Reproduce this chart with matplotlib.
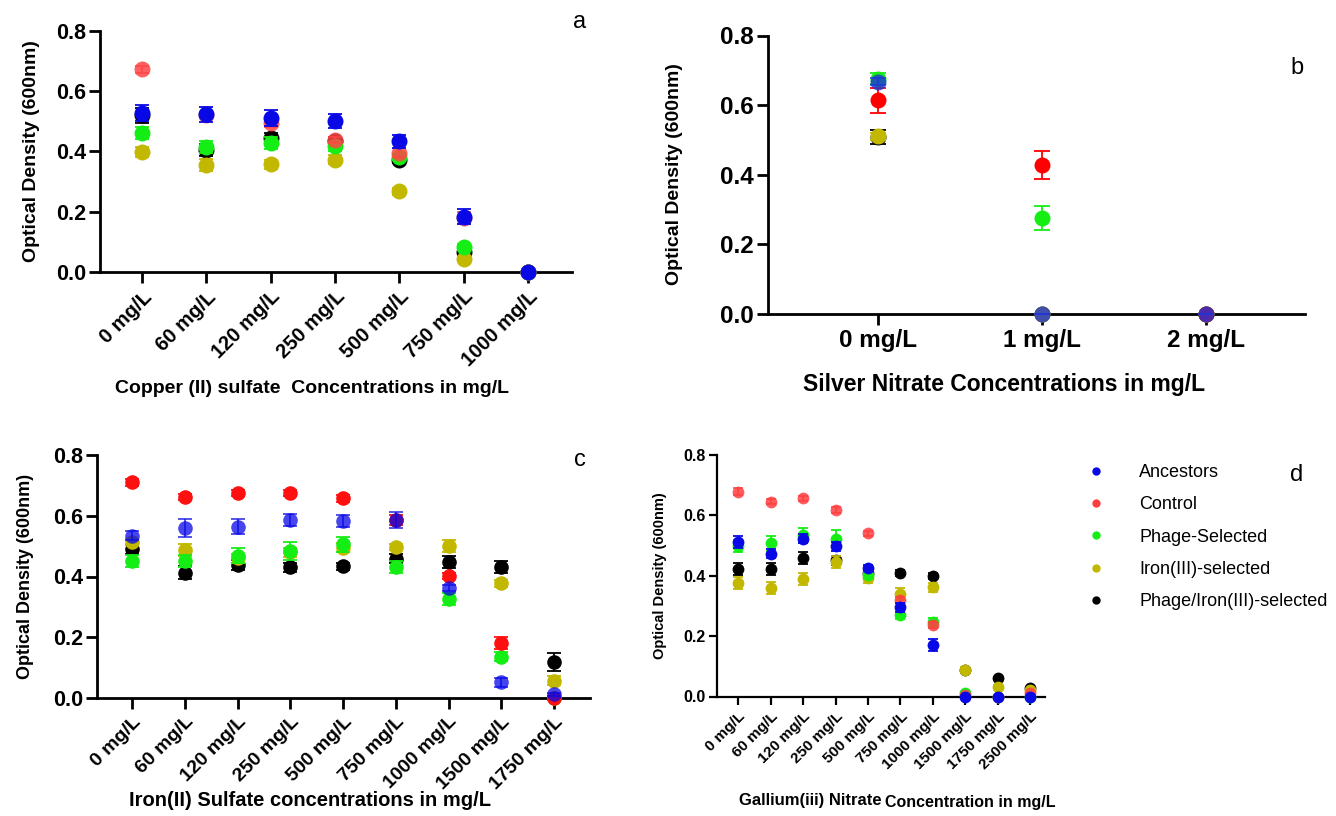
import matplotlib
matplotlib.use('Agg')
import matplotlib.pyplot as plt
from matplotlib.lines import Line2D

plt.rcParams['font.family'] = ['Liberation Sans', 'DejaVu Sans']

W, H = 1336, 816

series_names = ['Ancestors', 'Control', 'Phage-Selected', 'Iron(III)-selected',
                'Phage/Iron(III)-selected']

# ---------------- Panel a: Copper (II) sulfate ----------------
cu_labels = ['0 mg/L', '60 mg/L', '120 mg/L', '250 mg/L', '500 mg/L', '750 mg/L', '1000 mg/L']
cu_ancestors = [0.529, 0.523, 0.510, 0.501, 0.434, 0.184, 0.0]
cu_control = [0.673, 0.520, 0.495, 0.438, 0.396, 0.180, 0.0]
cu_phage = [0.462, 0.414, 0.429, 0.418, 0.382, 0.084, 0.0]
cu_iron = [0.399, 0.354, 0.357, 0.373, 0.268, 0.043, 0.0]
cu_phage_iron = [0.520, 0.405, 0.445, 0.435, 0.373, 0.068, 0.0]
cu_ancestors_err = [0.027, 0.025, 0.027, 0.023, 0.022, 0.025, 0.0]
cu_control_err = [0.012, 0.010, 0.015, 0.010, 0.015, 0.020, 0.0]
cu_phage_err = [0.020, 0.020, 0.020, 0.015, 0.010, 0.010, 0.0]
cu_iron_err = [0.017, 0.020, 0.015, 0.015, 0.012, 0.008, 0.0]
cu_phage_iron_err = [0.025, 0.020, 0.015, 0.012, 0.012, 0.008, 0.0]

# ---------------- Panel b: Silver nitrate ----------------
ag_labels = ['0 mg/L', '1 mg/L', '2 mg/L']
ag_ancestors = [0.667, 0.0, 0.0]
ag_control = [0.613, 0.428, 0.0]
ag_phage = [0.676, 0.275, 0.0]
ag_iron = [0.510, 0.0, 0.0]
ag_phage_iron = [0.508, 0.0, 0.0]
ag_ancestors_err = [0.010, 0.0, 0.0]
ag_control_err = [0.035, 0.040, 0.0]
ag_phage_err = [0.015, 0.035, 0.0]
ag_iron_err = [0.010, 0.0, 0.0]
ag_phage_iron_err = [0.020, 0.0, 0.0]

# ---------------- Panel c: Iron(II) sulfate ----------------
fe_labels = ['0 mg/L', '60 mg/L', '120 mg/L', '250 mg/L', '500 mg/L', '750 mg/L',
             '1000 mg/L', '1500 mg/L', '1750 mg/L']
fe_ancestors = [0.534, 0.559, 0.564, 0.586, 0.583, 0.586, 0.361, 0.052, 0.013]
fe_control = [0.710, 0.663, 0.674, 0.676, 0.657, 0.586, 0.403, 0.180, 0.0]
fe_phage = [0.451, 0.452, 0.469, 0.485, 0.506, 0.432, 0.325, 0.136, 0.0]
fe_iron = [0.515, 0.487, 0.460, 0.480, 0.495, 0.496, 0.500, 0.377, 0.057]
fe_phage_iron = [0.489, 0.413, 0.438, 0.430, 0.434, 0.458, 0.449, 0.430, 0.118]
fe_ancestors_err = [0.015, 0.030, 0.025, 0.020, 0.020, 0.025, 0.010, 0.015, 0.005]
fe_control_err = [0.012, 0.010, 0.010, 0.010, 0.012, 0.015, 0.010, 0.020, 0.005]
fe_phage_err = [0.020, 0.020, 0.025, 0.030, 0.025, 0.020, 0.020, 0.015, 0.0]
fe_iron_err = [0.010, 0.020, 0.015, 0.015, 0.015, 0.010, 0.020, 0.010, 0.015]
fe_phage_iron_err = [0.015, 0.020, 0.015, 0.015, 0.012, 0.015, 0.020, 0.020, 0.030]

# ---------------- Panel d: Gallium(iii) nitrate ----------------
ga_labels = ['0 mg/L', '60 mg/L', '120 mg/L', '250 mg/L', '500 mg/L', '750 mg/L',
             '1000 mg/L', '1500 mg/L', '1750 mg/L', '2500 mg/L']
ga_ancestors = [0.512, 0.473, 0.523, 0.498, 0.425, 0.296, 0.171, 0.0, 0.0, 0.0]
ga_control = [0.678, 0.645, 0.656, 0.617, 0.541, 0.320, 0.237, 0.005, 0.0, 0.010]
ga_phage = [0.500, 0.508, 0.534, 0.523, 0.404, 0.271, 0.246, 0.010, 0.0, 0.0]
ga_iron = [0.376, 0.359, 0.388, 0.445, 0.392, 0.340, 0.362, 0.089, 0.033, 0.020]
ga_phage_iron = [0.421, 0.423, 0.460, 0.451, 0.410, 0.410, 0.398, 0.087, 0.061, 0.027]
ga_ancestors_err = [0.020, 0.015, 0.015, 0.015, 0.010, 0.015, 0.020, 0.0, 0.0, 0.0]
ga_control_err = [0.012, 0.008, 0.008, 0.010, 0.008, 0.010, 0.010, 0.0, 0.0, 0.0]
ga_phage_err = [0.020, 0.025, 0.025, 0.030, 0.010, 0.015, 0.015, 0.0, 0.0, 0.0]
ga_iron_err = [0.020, 0.020, 0.020, 0.020, 0.015, 0.020, 0.015, 0.008, 0.005, 0.0]
ga_phage_iron_err = [0.020, 0.020, 0.020, 0.015, 0.010, 0.010, 0.010, 0.005, 0.005, 0.005]

BLUE, RED, GREEN, OLIVE, BLACK = '#0808e6', '#ff2020', '#14ee14', '#c2b800', '#000000'
series_colors = [BLUE, RED, GREEN, OLIVE, BLACK]
series_z = [7, 6, 5, 4, 3]

fig = plt.figure(figsize=(W / 100, H / 100), dpi=100)


def make_axes(left, right, y0, y8):
    return fig.add_axes([left / W, 1 - y0 / H, (right - left) / W, (y0 - y8) / H])


def style(ax, labels, t0, step, left, right, tick_fs, tlen, lw, xrot, xfs=None):
    n = len(labels)
    ax.set_xlim((left - t0) / step, (right - t0) / step)
    ax.set_ylim(0, 0.8)
    ax.set_yticks([0.0, 0.2, 0.4, 0.6, 0.8])
    ax.set_yticklabels(['0.0', '0.2', '0.4', '0.6', '0.8'], fontsize=tick_fs, fontweight='bold')
    ax.set_xticks(range(n))
    if xrot:
        ax.set_xticklabels(labels, rotation=45, ha='right', va='top', rotation_mode='anchor',
                           fontsize=xrot, fontweight='bold')
    else:
        ax.set_xticklabels(labels, fontsize=xfs, fontweight='bold')
    for s in ['top', 'right']:
        ax.spines[s].set_visible(False)
    for s in ['left', 'bottom']:
        ax.spines[s].set_linewidth(lw)
    ax.tick_params(axis='both', direction='out', length=tlen, width=lw)
    ax.tick_params(axis='y', pad=2)
    ax.tick_params(axis='x', pad=3)


def plot_series(ax, values, errs, ms, cap, alphas, colors=series_colors):
    for i, (v, e) in enumerate(zip(values, errs)):
        cont = ax.errorbar(range(len(v)), v, yerr=e, fmt='o', color=colors[i], ms=ms,
                           mec='none', capsize=cap, elinewidth=1.3, capthick=1.3,
                           zorder=series_z[i], alpha=alphas[i])
        for art in cont.lines[0:1] + tuple(cont.lines[1]) + tuple(cont.lines[2]):
            if art is not None:
                art.set_clip_on(False)


# ---- a ----
axa = make_axes(100, 572, 272, 31)
style(axa, cu_labels, 142, 64.33, 100, 572, 15.5, 8, 2.0, 14.5)
plot_series(axa, [cu_ancestors, cu_control, cu_phage, cu_iron, cu_phage_iron],
            [cu_ancestors_err, cu_control_err, cu_phage_err, cu_iron_err, cu_phage_iron_err],
            11.5, 5, [1, 0.85, 1, 1, 1], [BLUE, '#ff4545', GREEN, OLIVE, BLACK])
axa.set_ylabel('Optical Density (600nm)', fontsize=14, fontweight='bold')
axa.yaxis.set_label_coords(-0.128, 0.5)
axa.set_xlabel('Copper (II) sulfate  Concentrations in mg/L', fontsize=14, fontweight='bold')
axa.xaxis.set_label_coords(0.45, -0.45)
fig.text(580 / W, 1 - 22 / H, 'a', fontsize=17, ha='center', va='center')

# ---- b ----
axb = make_axes(768, 1305, 313.5, 35.5)
style(axb, ag_labels, 877.7, 164.2, 768, 1305, 17.5, 8, 2.0, None, xfs=17.5)
plot_series(axb, [ag_ancestors, ag_control, ag_phage, ag_iron, ag_phage_iron],
            [ag_ancestors_err, ag_control_err, ag_phage_err, ag_iron_err, ag_phage_iron_err],
            11.5, 5.5, [0.8, 1, 1, 1, 1], ['#1f35d8', '#ff0000', GREEN, OLIVE, BLACK])
axb.set_ylabel('Optical Density (600nm)', fontsize=14, fontweight='bold')
axb.yaxis.set_label_coords(-0.158, 0.5)
axb.set_xlabel('Silver Nitrate Concentrations in mg/L', fontsize=16.5, fontweight='bold')
axb.xaxis.set_label_coords(0.44, -0.215)
fig.text(1297 / W, 1 - 68 / H, 'b', fontsize=17, ha='center', va='center')

# ---- c ----
axc = make_axes(96.7, 590, 698, 455)
style(axc, fe_labels, 132.3, 52.7, 96.7, 590, 15.5, 8, 2.0, 14)
plot_series(axc, [fe_ancestors, fe_control, fe_phage, fe_iron, fe_phage_iron],
            [fe_ancestors_err, fe_control_err, fe_phage_err, fe_iron_err, fe_phage_iron_err],
            10.5, 5, [0.75, 1, 1, 1, 1], [BLUE, '#ff1010', GREEN, OLIVE, BLACK])
axc.set_ylabel('Optical Density (600nm)', fontsize=13, fontweight='bold')
axc.yaxis.set_label_coords(-0.128, 0.5)
fig.text(310 / W, 1 - 800 / H, 'Iron(II) Sulfate concentrations in mg/L', fontsize=14.5,
         fontweight='bold', ha='center', va='center')
fig.text(580 / W, 1 - 460 / H, 'c', fontsize=17, ha='center', va='center')

# ---- d ----
axd = make_axes(716.7, 1045, 696.5, 455)
style(axd, ga_labels, 738.3, 32.4, 716.7, 1045, 11.5, 6, 1.6, 11)
plot_series(axd, [ga_ancestors, ga_control, ga_phage, ga_iron, ga_phage_iron],
            [ga_ancestors_err, ga_control_err, ga_phage_err, ga_iron_err, ga_phage_iron_err],
            8.5, 3.5, [1, 0.85, 1, 1, 1], [BLUE, '#ff4040', GREEN, OLIVE, BLACK])
axd.set_ylabel('Optical Density (600nm)', fontsize=10.5, fontweight='bold')
axd.yaxis.set_label_coords(-0.15, 0.5)
fig.text(882 / W, 1 - 801 / H, 'Gallium(iii) Nitrate', fontsize=12, fontweight='bold',
         ha='right', va='center')
fig.text(885 / W, 1 - 802 / H, 'Concentration in mg/L', fontsize=11.5, fontweight='bold',
         ha='left', va='center')
fig.text(1297 / W, 1 - 475 / H, 'd', fontsize=17, ha='center', va='center')

handles = [Line2D([], [], ls='none', marker='o', ms=6, mec='none', color=c)
           for c in [BLUE, '#ff4040', GREEN, OLIVE, BLACK]]
fig.legend(handles, series_names, loc='upper left', bbox_to_anchor=(1087 / W, 1 - 464 / H),
           frameon=False, fontsize=13, handlelength=1.0, handletextpad=1.9,
           labelspacing=0.85, borderpad=0, borderaxespad=0)

fig.savefig('out.png', dpi=100)
